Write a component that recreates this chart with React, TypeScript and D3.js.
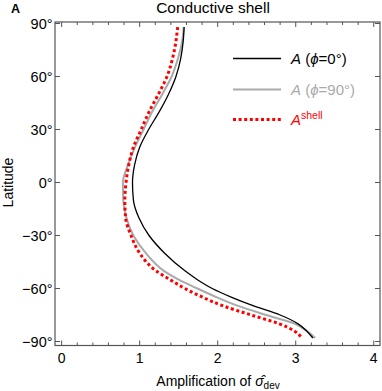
import * as d3 from "d3";

// latitude samples (deg) and amplification values
const latitudes = [88, 80, 70, 60, 50, 40, 30, 20, 10, 0, -10, -20, -30, -40, -50, -55, -60, -65, -70, -75, -80, -84, -88];
const ampPhi0 = [1.57, 1.558, 1.525, 1.465, 1.37, 1.25, 1.115, 1.0, 0.935, 0.908, 0.92, 0.99, 1.12, 1.32, 1.58, 1.74, 1.93, 2.18, 2.47, 2.8, 3.03, 3.14, 3.22];
const ampPhi90 = [1.565, 1.545, 1.49, 1.41, 1.29, 1.16, 1.05, 0.94, 0.85, 0.785, 0.79, 0.83, 0.92, 1.08, 1.31, 1.5, 1.74, 1.99, 2.27, 2.62, 2.99, 3.14, 3.25];
const ampShell = [1.487, 1.465, 1.42, 1.35, 1.24, 1.12, 1.02, 0.92, 0.86, 0.825, 0.81, 0.82, 0.89, 1.0, 1.21, 1.39, 1.58, 1.81, 2.08, 2.43, 2.79, 2.98, 3.08];

const xTicks = [0, 1, 2, 3, 4];
const yTicks = [90, 60, 30, 0, -30, -60, -90];

const W = 382;
const H = 391;
const frame = { left: 55, right: 380, top: 22, bottom: 345.5 };
const font = "'Liberation Sans', Arial, sans-serif";

export default function App() {
  const x = d3.scaleLinear().domain([-0.085, 4.08]).range([frame.left, frame.right]);
  const y = d3.scaleLinear().domain([-92.26, 90.85]).range([frame.bottom, frame.top]);

  const line = (vals: number[]) =>
    d3
      .line<number>()
      .x((d) => x(d))
      .y((_, i) => y(latitudes[i]))
      .curve(d3.curveMonotoneY)(vals) || "";

  const minorX = d3.range(0, 4.01, 0.2).filter((v) => Math.abs(v - Math.round(v)) > 1e-6);
  const frameColor = "#555";

  return (
    <svg width={W} height={H} style={{ position: "absolute", left: 0, top: 0 }}>
      <rect width={W} height={H} fill="#fff" />
      <text x={11} y={13} fontFamily={font} fontWeight="bold" fontSize={12.5}>A</text>
      <text x={213} y={13} fontFamily={font} fontSize={15.5} textAnchor="middle">Conductive shell</text>

      {/* curves */}
      <path d={line(ampPhi90)} fill="none" stroke="#aaa" strokeWidth={2} />
      <path d={line(ampPhi0)} fill="none" stroke="#000" strokeWidth={1.3} />
      <path d={line(ampShell)} fill="none" stroke="#f00" strokeWidth={3} strokeDasharray="3,2.6" />

      {/* frame */}
      <rect x={frame.left} y={frame.top} width={frame.right - frame.left} height={frame.bottom - frame.top}
        fill="none" stroke={frameColor} strokeWidth={1.2} />

      {xTicks.map((t) => (
        <g key={"x" + t}>
          <line x1={x(t)} x2={x(t)} y1={frame.bottom} y2={frame.bottom - 5} stroke={frameColor} />
          <line x1={x(t)} x2={x(t)} y1={frame.top} y2={frame.top + 5} stroke={frameColor} />
          <text x={x(t)} y={362.5} fontFamily={font} fontSize={14} textAnchor="middle">{t}</text>
        </g>
      ))}
      {minorX.map((t) => (
        <g key={"mx" + t}>
          <line x1={x(t)} x2={x(t)} y1={frame.bottom} y2={frame.bottom - 3} stroke={frameColor} />
          <line x1={x(t)} x2={x(t)} y1={frame.top} y2={frame.top + 3} stroke={frameColor} />
        </g>
      ))}
      {yTicks.map((t) => (
        <g key={"y" + t}>
          <line x1={frame.left} x2={frame.left + 5} y1={y(t)} y2={y(t)} stroke={frameColor} />
          <line x1={frame.right} x2={frame.right - 5} y1={y(t)} y2={y(t)} stroke={frameColor} />
          <text x={52.5} y={y(t) + 5} fontFamily={font} fontSize={14.5} textAnchor="end">
            {(t < 0 ? "\u2212" + Math.abs(t) : t) + "\u00b0"}
          </text>
        </g>
      ))}

      <text transform={`translate(13,${y(0)}) rotate(-90)`} fontFamily={font} fontSize={14} textAnchor="middle">Latitude</text>
      <text x={218} y={385.5} fontFamily={font} fontSize={14} textAnchor="middle">
        Amplification of <tspan fontStyle="italic">{"\u03c3\u0302"}</tspan>
        <tspan fontSize={10} dy={3}>dev</tspan>
      </text>

      {/* legend */}
      <line x1={233} x2={281} y1={58.5} y2={58.5} stroke="#000" strokeWidth={1.3} />
      <text x={291} y={64} fontFamily={font} fontSize={15}>
        <tspan fontStyle="italic">A</tspan> (<tspan fontStyle="italic">{"\u03d5"}</tspan>=0°)
      </text>
      <line x1={233} x2={281} y1={89.5} y2={89.5} stroke="#aaa" strokeWidth={2} />
      <text x={291} y={95} fontFamily={font} fontSize={15} fill="#aaa">
        <tspan fontStyle="italic">A</tspan> (<tspan fontStyle="italic">{"\u03d5"}</tspan>=90°)
      </text>
      <line x1={233} x2={281} y1={119.5} y2={119.5} stroke="#f00" strokeWidth={3} strokeDasharray="3,2.6" />
      <text x={291} y={125} fontFamily={font} fontSize={15} fill="#f00">
        <tspan fontStyle="italic">A</tspan>
        <tspan fontSize={10.5} dy={-6.5}>shell</tspan>
      </text>
    </svg>
  );
}
